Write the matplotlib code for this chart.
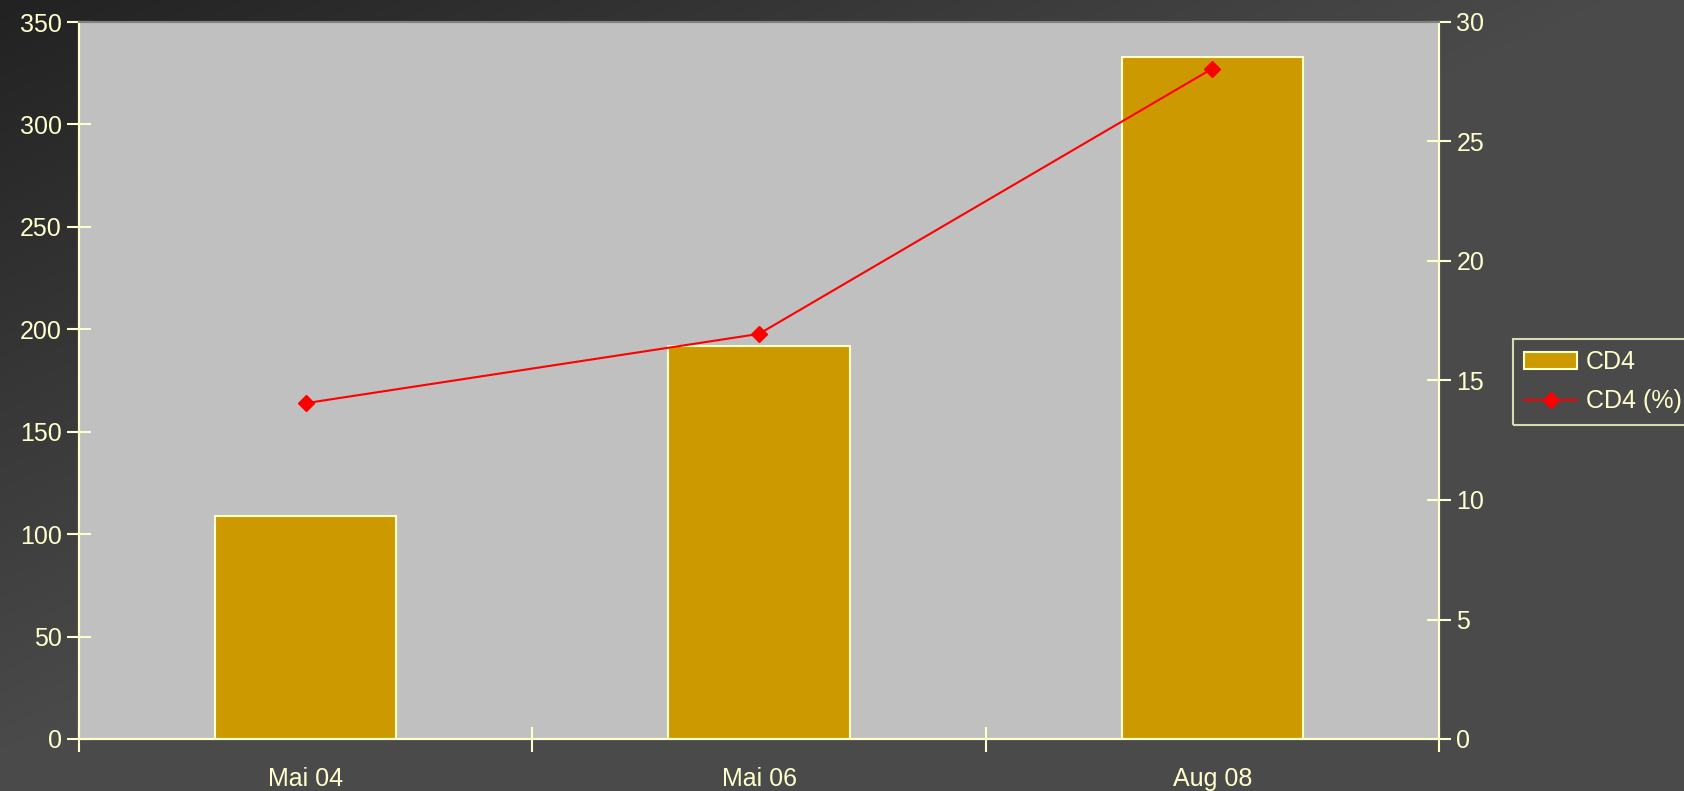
import numpy as np
import matplotlib
matplotlib.use("Agg")
import matplotlib.pyplot as plt

# data
categories = ["Mai 04", "Mai 06", "Aug 08"]
cd4_abs = [109, 192, 333]
cd4_pct = [14.05, 16.95, 28.05]

txt = "#FFFFCC"
plt.rcParams['font.family'] = ['Liberation Sans', 'DejaVu Sans']
plt.rcParams['font.size'] = 18

fig = plt.figure(figsize=(16.84, 7.91), dpi=100)

# diagonal dark gradient behind everything
bg = fig.add_axes([0, 0, 1, 1], zorder=-10)
xx, yy = np.meshgrid(np.linspace(0, 1, 400), np.linspace(0, 1, 200))
t = np.clip(xx * 1684 / 1600 + yy * 791 / 750, 0, 1)
shade = (0x22 + t * (0x4a - 0x22)) / 255
bg.imshow(np.dstack([shade, shade, shade]), aspect='auto', extent=[0, 1, 1, 0])
bg.set_axis_off()

ax = fig.add_axes([79 / 1684, 1 - 739 / 791, 1360 / 1684, 717 / 791])
ax.set_facecolor("#C0C0C0")
x = np.arange(len(categories))
ax.bar(x, cd4_abs, width=0.4, color="#CC9900", edgecolor=txt, linewidth=1.5, label="CD4", zorder=2)
ax.set_xlim(-0.5, len(categories) - 0.5)
ax.set_ylim(0, 350)
ax.set_yticks(np.arange(0, 351, 50))
ax.set_xticks(np.arange(-0.5, len(categories), 1.0))
ax.set_xticklabels([])
ax.set_xticks(x, minor=True)
ax.set_xticklabels(categories, minor=True)
ax.tick_params(axis='x', which='minor', length=0, pad=20, colors=txt)
ax.tick_params(axis='x', which='major', direction='inout', length=18, width=1.5, color=txt)
ax.tick_params(axis='y', direction='inout', length=17, width=1.5, color=txt, labelcolor=txt, pad=4)

ax2 = ax.twinx()
ax2.plot(x, cd4_pct, color="#FF0000", lw=1.5, marker='D', markersize=8, label="CD4 (%)", zorder=3)
ax2.set_ylim(0, 30)
ax2.set_yticks(np.arange(0, 31, 5))
ax2.tick_params(axis='y', direction='inout', length=17, width=1.5, color=txt, labelcolor=txt, pad=4)

for a in (ax, ax2):
    for side in ('left', 'right', 'bottom'):
        a.spines[side].set_color(txt)
        a.spines[side].set_linewidth(1.5)
    a.spines['top'].set_color("#808080")
    a.spines['top'].set_linewidth(1.5)

h1, l1 = ax.get_legend_handles_labels()
h2, l2 = ax2.get_legend_handles_labels()
leg = fig.legend(h1 + h2, l1 + l2, loc='upper left', bbox_to_anchor=(1513 / 1684, 1 - 339 / 791),
                 frameon=True, fancybox=False, facecolor="none", edgecolor=txt,
                 labelcolor=txt, handlelength=2.1, handletextpad=0.35, borderpad=0.45,
                 labelspacing=0.6, borderaxespad=0)
leg.get_frame().set_linewidth(1.5)

fig.savefig("out.png", dpi=100)
